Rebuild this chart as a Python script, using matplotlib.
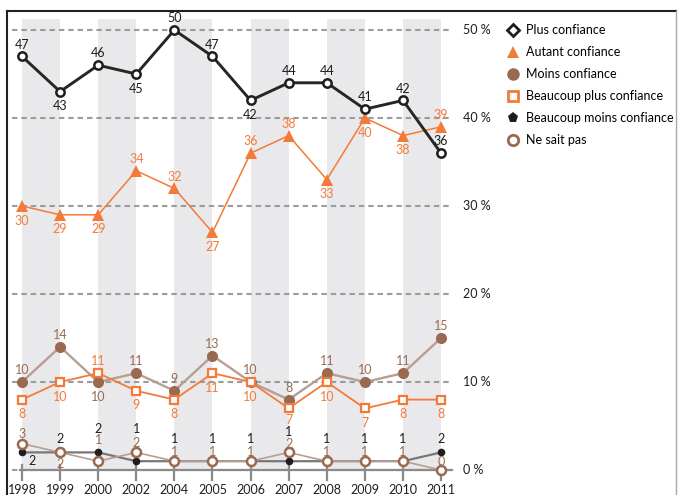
import matplotlib
matplotlib.use('Agg')
import matplotlib.pyplot as plt
from matplotlib.lines import Line2D

plt.rcParams['font.family'] = ['Lato', 'DejaVu Sans']

# ── Palette ──────────────────────────────────────────────
BLACK = '#1e1e1e'
ORANGE = '#f47a3a'
BROWN = '#9a6a50'
BROWN_LINE = '#b89e90'
GRAY = '#8a8a8a'
BAND = '#e9e9ec'

# ── Data ─────────────────────────────────────────────────
years = ['1998', '1999', '2000', '2002', '2004', '2005',
         '2006', '2007', '2008', '2009', '2010', '2011']
plus_conf = [47, 43, 46, 45, 50, 47, 42, 44, 44, 41, 42, 36]
autant_conf = [30, 29, 29, 34, 32, 27, 36, 38, 33, 40, 38, 39]
moins_conf = [10, 14, 10, 11, 9, 13, 10, 8, 11, 10, 11, 15]
bcp_plus = [8, 10, 11, 9, 8, 11, 10, 7, 10, 7, 8, 8]
bcp_moins = [2, 2, 2, 1, 1, 1, 1, 1, 1, 1, 1, 2]
ne_sait_pas = [3, 2, 1, 2, 1, 1, 1, 2, 1, 1, 1, 0]
y_ticks = [0, 10, 20, 30, 40, 50]

# label offsets in points (dx, dy) for each value
UP, DN = (0, 8.5), (0, -10.5)
plus_pos = [UP, DN, UP, DN, UP, UP, DN, UP, UP, UP, UP, UP]
autant_pos = [DN, DN, DN, UP, UP, DN, UP, UP, DN, DN, DN, UP]
moins_pos = [UP, UP, DN, UP, UP, UP, UP, UP, UP, UP, UP, UP]
bplus_pos = [DN, DN, UP, DN, DN, DN, DN, (0, -8), DN, DN, DN, DN]
bmoins_pos = [(7, -6), (0, 9.5), (0, 17), (0, 23.5), (0, 16), (0, 16),
              (0, 16), (0, 21), (0, 16), (0, 16), (0, 16), (0, 9.5)]
nsp_pos = [(0, 7), (0, -8.5), (0, 15), (0, 6.5), (0, 6.5), (0, 6.5),
           (0, 6.5), (0, 6), (0, 6.5), (0, 6.5), (0, 6.5), (0, 6)]

x = list(range(len(years)))

fig = plt.figure(figsize=(6.78, 4.95), dpi=100)
ax = fig.add_axes([0, 0, 1, 1])
ax.set_xlim(-22 / 38.1, 656 / 38.1)
ax.set_ylim(-25 / 8.8, 470 / 8.8)
ax.axis('off')

# alternating grey columns
for i in range(0, len(years) - 1, 2):
    ax.axvspan(i, i + 1, ymin=25 / 495, ymax=476 / 495,
               color=BAND, lw=0, zorder=0)

# dashed gridlines and right-hand labels
for t in y_ticks:
    ax.plot([-0.26, 11.23], [t, t], color='#9c9c9c', lw=1.5,
            dashes=(2.6, 1.9), zorder=1)
    ax.text(11.57, t, f'{t} %', fontsize=9, color=BLACK,
            ha='left', va='center')

# baseline with ticks and year labels
ax.plot([-0.05, 11.28], [0, 0], color=GRAY, lw=1.6, zorder=2)
for i, yr in zip(x, years):
    ax.plot([i, i], [0.6, -1.15], color=GRAY, lw=1.6, zorder=2)
    ax.text(i, -2.25, yr, fontsize=9, color=BLACK, ha='center', va='center')

series = [
    (plus_conf, 'Plus confiance', '#262626', 2.1,
     dict(marker='o', ms=6, mfc='white', mec=BLACK, mew=1.8), plus_pos, BLACK, 6),
    (autant_conf, 'Autant confiance', ORANGE, 1.1,
     dict(marker='^', ms=8, mfc=ORANGE, mec=ORANGE, mew=0), autant_pos, ORANGE, 5),
    (moins_conf, 'Moins confiance', BROWN_LINE, 1.7,
     dict(marker='o', ms=8, mfc=BROWN, mec=BROWN, mew=0), moins_pos, BROWN, 4),
    (bcp_plus, 'Beaucoup plus confiance', ORANGE, 1.3,
     dict(marker='s', ms=6, mfc='white', mec=ORANGE, mew=1.6), bplus_pos, ORANGE, 5),
    (bcp_moins, 'Beaucoup moins confiance', '#777777', 1.6,
     dict(marker='o', ms=5.5, mfc=BLACK, mec=BLACK, mew=0), bmoins_pos, BLACK, 4),
    (ne_sait_pas, 'Ne sait pas', BROWN_LINE, 1.2,
     dict(marker='o', ms=6.5, mfc='white', mec=BROWN, mew=1.8), nsp_pos, BROWN, 5),
]

for vals, name, lcol, lw, mk, pos, tcol, z in series:
    ax.plot(x, vals, color=lcol, lw=lw, zorder=z, **mk)
    for i, v, (dx, dy) in zip(x, vals, pos):
        ax.annotate(str(v), (i, v), xytext=(dx, dy), textcoords='offset points',
                    ha='center', va='center', fontsize=9, color=tcol, zorder=8)

# legend
handles = [
    Line2D([], [], ls='none', marker='D', ms=6, mfc='white', mec=BLACK, mew=2),
    Line2D([], [], ls='none', marker='^', ms=9, mfc=ORANGE, mec=ORANGE, mew=0),
    Line2D([], [], ls='none', marker='o', ms=9, mfc=BROWN, mec=BROWN, mew=0),
    Line2D([], [], ls='none', marker='s', ms=7, mfc='white', mec=ORANGE, mew=2),
    Line2D([], [], ls='none', marker='p', ms=8, mfc=BLACK, mec=BLACK, mew=0),
    Line2D([], [], ls='none', marker='o', ms=7.5, mfc='white', mec=BROWN, mew=2),
]
labels = [s[1] for s in series]
fig.legend(handles, labels, loc='upper left',
           bbox_to_anchor=(507 / 678, 1 - 24 / 495), frameon=False,
           fontsize=9, handlelength=1.0, handletextpad=0.55,
           labelspacing=0.8, borderpad=0, borderaxespad=0)

# outer frame
fig.add_artist(Line2D([7 / 678, 676 / 678], [1 - 11 / 495] * 2,
                      color='#222222', lw=1.5, transform=fig.transFigure))
fig.add_artist(Line2D([7 / 678] * 2, [0, 1 - 11 / 495],
                      color='#222222', lw=1.5, transform=fig.transFigure))
fig.add_artist(Line2D([676 / 678] * 2, [0, 1 - 11 / 495],
                      color='#aaaaaa', lw=1, transform=fig.transFigure))

fig.savefig('out.png', dpi=100, facecolor='white')
